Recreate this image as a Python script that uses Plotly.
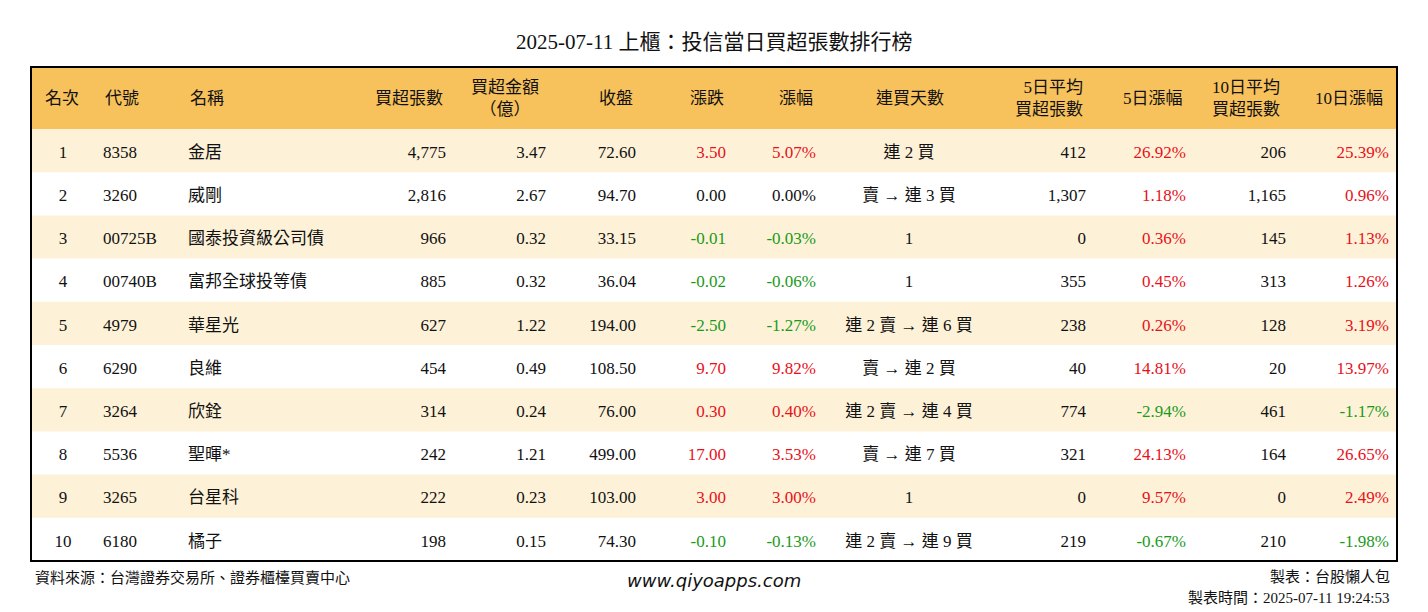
import plotly.graph_objects as go

W, H = 1428, 612
rank = [str(i) for i in range(1, 11)]
codes = ["8358", "3260", "00725B", "00740B", "4979", "6290", "3264", "5536", "3265", "6180"]
names = ["金居", "威剛", "國泰投資級公司債", "富邦全球投等債", "華星光", "良維", "欣銓", "聖暉*", "台星科", "橘子"]
net_buy = ["4,775", "2,816", "966", "885", "627", "454", "314", "242", "222", "198"]
amount = ["3.47", "2.67", "0.32", "0.32", "1.22", "0.49", "0.24", "1.21", "0.23", "0.15"]
close = ["72.60", "94.70", "33.15", "36.04", "194.00", "108.50", "76.00", "499.00", "103.00", "74.30"]
change = [3.50, 0.00, -0.01, -0.02, -2.50, 9.70, 0.30, 17.00, 3.00, -0.10]
pct = [5.07, 0.00, -0.03, -0.06, -1.27, 9.82, 0.40, 3.53, 3.00, -0.13]
streak = ["連 2 買", "賣 → 連 3 買", "1", "1", "連 2 賣 → 連 6 買", "賣 → 連 2 買",
          "連 2 賣 → 連 4 買", "賣 → 連 7 買", "1", "連 2 賣 → 連 9 買"]
avg5 = ["412", "1,307", "0", "355", "238", "40", "774", "321", "0", "219"]
pct5 = [26.92, 1.18, 0.36, 0.45, 0.26, 14.81, -2.94, 24.13, 9.57, -0.67]
avg10 = ["206", "1,165", "145", "313", "128", "20", "461", "164", "0", "210"]
pct10 = [25.39, 0.96, 1.13, 1.26, 3.19, 13.97, -1.17, 26.65, 2.49, -1.98]

headers = ["名次", "代號", "名稱", "買超張數", "買超金額<br>（億）", "收盤", "漲跌", "漲幅", "連買天數",
           "5日平均<br>買超張數", "5日漲幅", "10日平均<br>買超張數", "10日漲幅"]
hpos = [(62, "center"), (103, "left"), (188, "left"), (445, "right"), (505, "center"),
        (635, "right"), (707, "center"), (815, "right"), (910, "center"), (1085, "right"),
        (1185, "right"), (1246, "center"), (1385, "right")]
widths = [64, 85, 180, 94, 100, 90, 90, 90, 170, 100, 100, 100, 103]
RED, GREEN, BLACK = "#e8101a", "#1a9a1a", "#111111"
HEAD_BG, ROW_BG = "#f7c15c", "#fdf2d8"

def col(v):
    return RED if v > 0 else (GREEN if v < 0 else BLACK)

columns = [rank, codes, names, net_buy, amount, close,
           [f"{v:.2f}" for v in change], [f"{v:.2f}%" for v in pct], streak,
           avg5, [f"{v:.2f}%" for v in pct5], avg10, [f"{v:.2f}%" for v in pct10]]
blk = [BLACK] * 10
fcolors = [blk, blk, blk, blk, blk, blk, [col(v) for v in change], [col(v) for v in pct], blk,
           blk, [col(v) for v in pct5], blk, [col(v) for v in pct10]]
align_c = ["center", "left", "left", "right", "right", "right", "right", "right", "center",
           "right", "right", "right", "right"]
FONT = "Liberation Serif, Noto Sans CJK TC"
CLEAR = "rgba(0,0,0,0)"

def px(x):
    return (x - 8) / W

def py(y):
    return 1 - (y - 8) / H

TOP, HEAD_H, ROW_H = 67, 62, 43.2
BOTTOM = TOP + HEAD_H + 10 * ROW_H
x0, x1 = px(31), px(1397)
shift = 8  # push cell text down so it sits mid-row
fig = go.Figure(go.Table(
    columnwidth=widths,
    domain=dict(x=[x0, x1], y=[py(BOTTOM + shift), py(TOP)]),
    header=dict(values=[""] * 13, fill_color=CLEAR, line_color=CLEAR, height=HEAD_H + shift),
    cells=dict(values=columns, fill_color=CLEAR, line_color=CLEAR, height=ROW_H,
               align=align_c, font=dict(family=FONT, size=17, color=fcolors)),
))
# backgrounds
fig.add_shape(type="rect", xref="paper", yref="paper", layer="below", x0=x0, x1=x1,
              y0=py(TOP + HEAD_H), y1=py(TOP), fillcolor=HEAD_BG, line_width=0)
for i in range(0, 10, 2):
    fig.add_shape(type="rect", xref="paper", yref="paper", layer="below", x0=x0, x1=x1,
                  y0=py(TOP + HEAD_H + (i + 1) * ROW_H), y1=py(TOP + HEAD_H + i * ROW_H),
                  fillcolor=ROW_BG, line_width=0)
fig.add_shape(type="rect", xref="paper", yref="paper", x0=x0, x1=x1, y0=py(BOTTOM), y1=py(TOP),
              line=dict(color="black", width=2))
for h, (hx, anc) in zip(headers, hpos):
    fig.add_annotation(x=px(hx), y=py(98), xref="paper", yref="paper", showarrow=False,
                       xanchor=anc, yanchor="middle", align=anc,
                       text=h, font=dict(family=FONT, size=17, color=BLACK))
fig.add_annotation(x=px(714), y=py(42), xref="paper", yref="paper", showarrow=False, yanchor="middle",
                   text="2025-07-11 上櫃：投信當日買超張數排行榜", font=dict(family=FONT, size=21, color=BLACK))
fig.add_annotation(x=px(33), y=py(577), xref="paper", yref="paper", showarrow=False, xanchor="left",
                   yanchor="middle",
                   text="資料來源：台灣證券交易所、證券櫃檯買賣中心", font=dict(family=FONT, size=15, color=BLACK))
fig.add_annotation(x=px(714), y=py(580), xref="paper", yref="paper", showarrow=False, yanchor="middle",
                   text="<i>www.qiyoapps.com</i>", font=dict(family="DejaVu Sans", size=18, color=BLACK))
fig.add_annotation(x=px(1392), y=py(577), xref="paper", yref="paper", showarrow=False, xanchor="right",
                   yanchor="middle", text="製表：台股懶人包", font=dict(family=FONT, size=15, color=BLACK))
fig.add_annotation(x=px(1392), y=py(598), xref="paper", yref="paper", showarrow=False, xanchor="right",
                   yanchor="middle", text="製表時間：2025-07-11 19:24:53",
                   font=dict(family=FONT, size=15, color=BLACK))
fig.update_layout(width=W, height=H, margin=dict(l=0, r=0, t=0, b=0),
                  paper_bgcolor="white", plot_bgcolor="white")
fig.write_html("out.html")
